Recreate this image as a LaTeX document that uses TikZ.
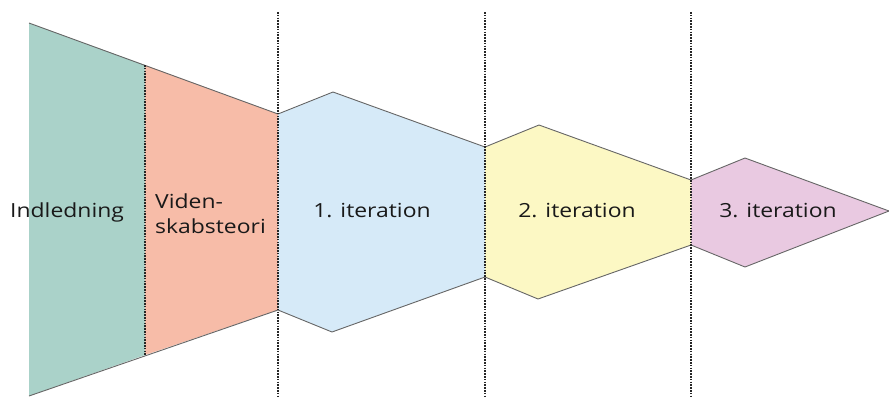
\documentclass[tikz,border=0pt]{standalone}
\usepackage{fontspec}
\setmainfont{Open Sans}[FakeStretch=1.18]
\definecolor{cgreen}{HTML}{AAD2C9}
\definecolor{csalmon}{HTML}{F7BCA8}
\definecolor{cblue}{HTML}{D6EAF8}
\definecolor{cyellow}{HTML}{FCF8C4}
\definecolor{cpink}{HTML}{E9C9E1}
\definecolor{cedge}{HTML}{666666}
\begin{document}
\begin{tikzpicture}[x=1bp,y=-1bp,
  edge/.style={draw=cedge,line width=0.9bp,line join=miter},
  divider/.style={draw=black!85,line width=1.1bp,dash pattern=on 1.6bp off 1.2bp},
  lbl/.style={font=\fontsize{19.5}{23}\selectfont,text=black!90,inner sep=0pt}]
\useasboundingbox (0,0) rectangle (889,398);
% coloured stages
\fill[cgreen]  (29,23) -- (145,65) -- (145,355) -- (29,396) -- cycle;
\fill[csalmon] (145,65) -- (278,114) -- (278,310) -- (145,355) -- cycle;
\fill[cblue]   (278,114) -- (333,92) -- (485,147) -- (485,277) -- (332,332) -- (278,310) -- cycle;
\fill[cyellow] (485,147) -- (539,125) -- (691,180) -- (691,245) -- (538,299) -- (485,277) -- cycle;
\fill[cpink]   (691,180) -- (745,158) -- (889,211) -- (745,267) -- (691,245) -- cycle;
% outlines
\draw[edge] (29,23) -- (278,114) -- (333,92) -- (485,147) -- (539,125) -- (691,180) -- (745,158) -- (889,211);
\draw[edge] (29,396) -- (278,310) -- (332,332) -- (485,277) -- (538,299) -- (691,245) -- (745,267) -- (889,211);
% dividers
\draw[divider] (145,65) -- (145,355);
\draw[divider] (278,12) -- (278,398);
\draw[divider] (485,12) -- (485,398);
\draw[divider] (691,12) -- (691,398);
% labels
\node[lbl,anchor=base west] (indl) at (10,217) {Indledning};
\node[lbl,anchor=base west] (vid1) at (155,208) {Viden-};
\node[lbl,anchor=base west] (vid2) at (155,233) {skabsteori};
\node[lbl,anchor=base] (it1) at (372,217) {1. iteration};
\node[lbl,anchor=base] (it2) at (577,217) {2. iteration};
\node[lbl,anchor=base] (it3) at (778,217) {3. iteration};
\end{tikzpicture}
\end{document}
